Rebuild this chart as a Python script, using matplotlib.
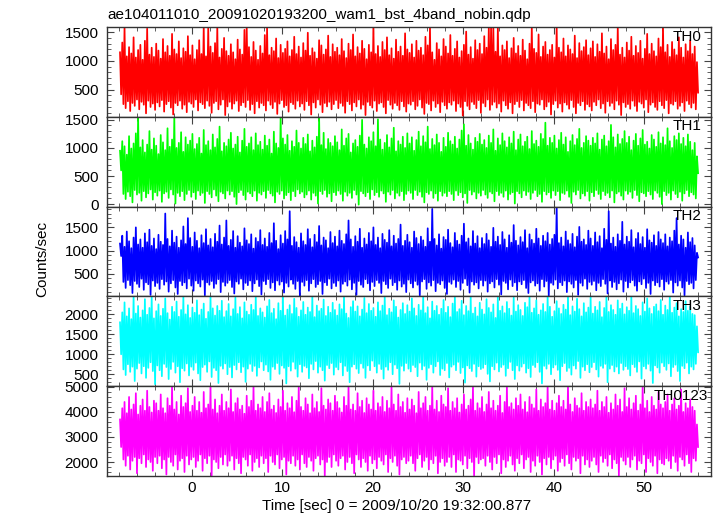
import matplotlib
matplotlib.use("Agg")
import matplotlib.pyplot as plt
import numpy as np
from matplotlib.ticker import MultipleLocator

plt.rcParams['font.family'] = ['Liberation Sans', 'DejaVu Sans']

title = "ae104011010_20091020193200_wam1_bst_4band_nobin.qdp"
xlabel = "Time [sec] 0 = 2009/10/20 19:32:00.877"
ylabel = "Counts/sec"
names = ["TH0", "TH1", "TH2", "TH3", "TH0123"]
colors = ["#ff0000", "#00ff00", "#0000ff", "#00ffff", "#ff00ff"]

t_start = -7.92   # first bin time [s]
t_step = 0.125    # half of the 0.25 s envelope sampling (hi, lo, hi, lo ...)

# upper spikes / lower dips of each light curve, read every 0.25 s (counts/sec)
th0_hi = [1150, 1320, 1590, 1080, 1240, 1130, 1410, 1060, 1190, 1280, 1020, 1350, 1560, 1110, 1230, 1070,
          1300, 1180, 1040, 1380, 1150, 1260, 1090, 1470, 1200, 1120, 1340, 1050, 1220, 1160, 1430, 1100,
          1270, 1030, 1190, 1360, 1120, 1590, 1080, 1580, 1250, 1140, 1310, 1590, 1060, 1210, 1400, 1170,
          1090, 1290, 1150, 1030, 1370, 1200, 1110, 1540, 1590, 1240, 1070, 1330, 1180, 1020, 1260, 1130,
          1450, 1570, 1100, 1230, 1170, 1390, 1050, 1280, 1140, 1210, 1340, 1080, 1190, 1420, 1120, 1250,
          1060, 1310, 1180, 1490, 1090, 1220, 1150, 1040, 1360, 1270, 1110, 1200, 1440, 1070, 1290, 1160,
          1230, 1100, 1380, 1170, 1050, 1300, 1190, 1460, 1080, 1240, 1130, 1350, 1210, 1030, 1280, 1150,
          1590, 1120, 1260, 1070, 1330, 1190, 1410, 1100, 1220, 1040, 1370, 1160, 1250, 1090, 1480, 1200,
          1140, 1290, 1060, 1350, 1180, 1230, 1100, 1420, 1270, 1590, 1150, 1020, 1310, 1200, 1080, 1380,
          1250, 1130, 1450, 1090, 1210, 1340, 1060, 1170, 1280, 1510, 1110, 1240, 1040, 1360, 1190, 1300,
          1120, 1430, 1230, 1590, 1570, 1590, 1160, 1590, 1080, 1270, 1190, 1340, 1050, 1220, 1400, 1130,
          1260, 1090, 1370, 1180, 1030, 1300, 1590, 1210, 1140, 1460, 1070, 1250, 1330, 1110, 1190, 1280,
          1060, 1580, 1230, 1150, 1390, 1080, 1270, 1200, 1120, 1440, 1050, 1310, 1170, 1240, 1360, 1100,
          1220, 1340, 1070, 1290, 1160, 1480, 1130, 1250, 1030, 1380, 1190, 1280, 1590, 1110, 1230, 1060,
          1320, 1180, 1420, 1090, 1260, 1140, 1350, 1040, 1210, 1470, 1120, 1300, 1170, 1080, 1390, 1240,
          1590, 1150, 1280, 1070, 1330, 1200, 1100, 1410, 1230, 1060, 1290, 1170, 1360, 1120, 1250, 980]
th0_lo = [420, 250, 180, 300, 130, 270, 220, 330, 160, 290, 240, 90, 310, 200, 260, 150,
          280, 210, 320, 120, 250, 300, 190, 70, 270, 230, 310, 170, 240, 110, 290, 260,
          200, 330, 140, 280, 250, 180, 310, 220, 100, 270, 300, 160, 240, 330, 60, 210,
          290, 170, 260, 310, 130, 230, 280, 200, 320, 150, 250, 90, 300, 190, 270, 230,
          140, 310, 240, 180, 290, 80, 260, 320, 200, 230, 120, 280, 250, 170, 310, 210,
          260, 150, 300, 230, 70, 280, 190, 330, 240, 110, 270, 210, 290, 160, 250, 320,
          180, 270, 220, 100, 300, 250, 140, 280, 210, 330, 170, 240, 60, 290, 230, 190,
          310, 130, 260, 280, 200, 90, 320, 240, 170, 270, 230, 150, 300, 210, 120, 260,
          240, 300, 160, 220, 330, 190, 80, 270, 250, 140, 310, 200, 260, 110, 290, 230,
          170, 280, 240, 310, 130, 260, 200, 50, 300, 220, 160, 290, 250, 180, 320, 100,
          270, 210, 330, 150, 240, 290, 190, 260, 120, 310, 230, 170, 280, 90, 250, 300,
          200, 320, 140, 270, 230, 180, 300, 110, 260, 240, 330, 160, 210, 290, 70, 250,
          310, 190, 260, 120, 280, 240, 170, 320, 200, 90, 270, 230, 300, 150, 250, 210,
          140, 290, 230, 330, 180, 260, 100, 300, 220, 270, 160, 310, 240, 60, 280, 200,
          250, 170, 310, 220, 130, 290, 260, 190, 330, 110, 240, 280, 200, 150, 300, 230,
          180, 320, 90, 260, 240, 300, 170, 220, 280, 130, 310, 250, 190, 270, 160, 450]

th1_hi = [950, 1120, 1030, 880, 1210, 990, 1080, 1260, 1550, 1010, 1140, 920, 1060, 1300, 970, 1170,
          1040, 890, 1230, 1100, 960, 1350, 1020, 1150, 1550, 1000, 1090, 1280, 930, 1190, 1060, 1130,
          1250, 980, 1070, 1180, 900, 1320, 1050, 1120, 960, 1240, 1010, 1160, 1380, 940, 1090, 1030,
          1150, 1270, 990, 1060, 1200, 920, 1130, 1340, 1020, 1080, 1190, 960, 1260, 1050, 1110, 970,
          1220, 1040, 1150, 900, 1290, 1080, 1000, 1550, 1170, 1060, 1230, 950, 1120, 1020, 1310, 1090,
          990, 1180, 1070, 1240, 940, 1130, 1010, 1200, 1550, 1050, 1270, 980, 1160, 1090, 1030, 1210,
          1100, 960, 1330, 1040, 1170, 1250, 920, 1080, 1140, 1020, 1220, 1500, 1060, 990, 1190, 1120,
          1280, 1030, 1510, 1150, 970, 1090, 1230, 1010, 1170, 1360, 940, 1120, 1060, 1200, 1000, 1260,
          1080, 1190, 950, 1140, 1290, 1030, 1210, 1100, 1380, 980, 1160, 1050, 1240, 1090, 930, 1180,
          1020, 1270, 1120, 1060, 1200, 990, 1150, 1310, 1420, 1040, 1230, 1080, 970, 1180, 1110, 1250,
          1060, 1140, 1000, 1220, 1090, 1330, 950, 1170, 1050, 1260, 1120, 1010, 1190, 1080, 1290, 960,
          1150, 1240, 1030, 1110, 1200, 980, 1300, 1070, 1130, 1020, 1250, 1160, 1450, 1040, 1180, 1090,
          1220, 990, 1140, 1270, 1060, 1190, 930, 1120, 1230, 1050, 1160, 1340, 1000, 1090, 1210, 1130,
          1040, 1180, 1080, 1260, 970, 1150, 1220, 1030, 1120, 1410, 1190, 1010, 1240, 1070, 1160, 1300,
          1090, 1200, 960, 1130, 1250, 1040, 1170, 1320, 1060, 1110, 990, 1230, 1150, 1020, 1280, 1080,
          1190, 1050, 1350, 1120, 1000, 1210, 1140, 1260, 1070, 1180, 1030, 1240, 1110, 960, 1090, 850]
th1_lo = [600, 180, 90, 220, 140, 30, 250, 170, 200, 60, 230, 120, 190, 260, 80, 210,
          150, 240, 40, 190, 220, 110, 260, 170, 10, 200, 140, 230, 70, 180, 250, 130,
          210, 90, 240, 160, 200, 20, 230, 180, 120, 260, 150, 50, 220, 190, 100, 240,
          170, 230, 130, 0, 210, 250, 160, 80, 220, 190, 140, 240, 60, 200, 170, 230,
          110, 250, 190, 150, 30, 220, 180, 240, 100, 160, 210, 70, 230, 140, 260, 190,
          220, 120, 170, 240, 80, 200, 150, 10, 230, 180, 250, 130, 190, 50, 210, 160,
          240, 180, 60, 220, 150, 200, 110, 250, 170, -10, 230, 190, 140, 210, 90, 260,
          160, 210, 130, 240, 190, 40, 220, 170, 250, 100, 200, 150, 230, 70, 180, 240,
          200, 90, 250, 160, 220, 130, 30, 210, 180, 240, 110, 190, 60, 230, 150, 200,
          140, 230, 180, 70, 240, 160, 210, 120, 190, 20, 250, 170, 220, 100, 200, 150,
          250, 170, 110, 220, 190, 50, 230, 160, 200, 130, 240, 80, 180, 210, 10, 230,
          190, 120, 240, 160, 220, 90, 200, 250, 140, 180, 40, 230, 170, 210, 110, 240,
          160, 230, 70, 200, 180, 240, 130, 20, 220, 170, 250, 100, 190, 150, 230, 60,
          210, 140, 250, 180, 90, 230, 160, 200, 120, 240, 30, 190, 220, 150, 80, 240,
          180, 220, 110, 250, 160, 50, 210, 190, 140, 230, 170, 90, 240, 200, 130, 0,
          230, 160, 200, 80, 240, 180, 120, 220, 60, 190, 250, 140, 210, 170, 100, 550]

th2_hi = [1150, 1320, 1080, 1410, 1200, 1050, 1280, 1500, 1130, 1240, 1060, 1370, 1180, 1450, 1100, 1260,
          1030, 1340, 1190, 1120, 1800, 1250, 1090, 1430, 1170, 1300, 1060, 1220, 1520, 1140, 1700, 1270,
          1080, 1390, 1210, 1050, 1330, 1160, 1460, 1110, 1250, 1070, 1360, 1190, 1540, 1130, 1280, 1650,
          1100, 1230, 1420, 1060, 1310, 1170, 1090, 1480, 1220, 1140, 1350, 1040, 1270, 1190, 1440, 1120,
          1260, 1080, 1380, 1160, 1590, 1210, 1030, 1330, 1150, 1420, 1240, 1850, 1100, 1290, 1180, 1060,
          1370, 1200, 1120, 1460, 1250, 1070, 1340, 1180, 1530, 1110, 1280, 1220, 1050, 1400, 1160, 1300,
          1090, 1430, 1210, 1140, 1350, 1650, 1240, 1080, 1310, 1190, 1470, 1060, 1260, 1130, 1380, 1200,
          1500, 1120, 1280, 1050, 1360, 1230, 1170, 1440, 1090, 1320, 1150, 1250, 1560, 1100, 1210, 1340,
          1180, 1060, 1410, 1270, 1140, 1300, 1220, 1080, 1480, 1190, 1900, 1250, 1110, 1350, 1040, 1290,
          1230, 1450, 1160, 1070, 1380, 1210, 1130, 1320, 1580, 1180, 1260, 1090, 1420, 1150, 1310, 1050,
          1270, 1140, 1360, 1220, 1080, 1490, 1190, 1300, 1120, 1400, 1240, 1060, 1330, 1170, 1550, 1210,
          1110, 1290, 1180, 1440, 1050, 1350, 1230, 1150, 1470, 1260, 1100, 1320, 1200, 1380, 1130, 1250,
          1340, 1950, 1160, 1280, 1090, 1410, 1220, 1140, 1360, 1070, 1300, 1510, 1190, 1240, 1120, 1430,
          1260, 1100, 1390, 1180, 1310, 1050, 1470, 1230, 1850, 1150, 1280, 1080, 1350, 1210, 1620, 1130,
          1300, 1190, 1440, 1070, 1250, 1380, 1140, 1290, 1060, 1460, 1220, 1170, 1330, 1100, 1400, 1240,
          1160, 1350, 1090, 1280, 1200, 1430, 1700, 1130, 1320, 1240, 1060, 1390, 1180, 1270, 1110, 950]
th2_lo = [880, 320, 190, 360, 250, 80, 340, 280, 210, 390, 150, 310, 270, 40, 350, 230,
          300, 170, 380, 260, 330, 110, 290, 360, 200, 60, 340, 250, 310, 180, 390, 240,
          130, 350, 290, 220, 370, 30, 310, 260, 340, 190, 280, 380, 100, 320, 240, 300,
          360, 210, 70, 330, 280, 390, 160, 300, 250, 350, 120, 290, 370, 230, 50, 340,
          270, 380, 190, 310, 140, 350, 260, 330, 90, 300, 220, 370, 280, 170, 340, 20,
          320, 240, 360, 130, 290, 380, 210, 270, 340, 60, 310, 250, 390, 180, 300, 230,
          350, 110, 280, 330, 240, 370, 160, 300, 40, 340, 260, 210, 380, 290, 140, 320,
          230, 360, 300, 80, 340, 270, 190, 390, 250, 310, 150, 350, 220, 280, 100, 370,
          290, 200, 340, 260, 30, 330, 380, 170, 310, 240, 360, 120, 300, 270, 350, 190,
          60, 320, 280, 370, 210, 340, 150, 300, 390, 250, 90, 330, 260, 310, 180, 360,
          240, 350, 110, 290, 330, 200, 380, 260, 50, 340, 300, 160, 370, 230, 310, 140,
          330, 270, 360, 190, 80, 310, 350, 240, 290, 130, 380, 220, 340, 20, 300, 260,
          370, 180, 310, 250, 350, 100, 330, 280, 200, 360, 40, 300, 240, 390, 170, 320,
          260, 340, 140, 300, 230, 380, 280, 70, 350, 210, 320, 160, 290, 370, 110, 340,
          200, 310, 360, 240, 130, 330, 270, 390, 190, 300, 60, 350, 250, 310, 220, 380,
          150, 330, 280, 360, 90, 310, 240, 350, 200, 30, 340, 270, 300, 180, 360, 850]

th3_hi = [1800, 2050, 2300, 1950, 2150, 1880, 2450, 2020, 2210, 1920, 2100, 2380, 1990, 2160, 2450, 1900,
          2080, 2250, 1960, 2140, 2400, 2030, 1870, 2190, 2060, 2320, 1940, 2110, 2450, 2000, 2230, 1910,
          2170, 2040, 2350, 1980, 2120, 2270, 1890, 2060, 2450, 2150, 1970, 2210, 2090, 2340, 1930, 2080,
          2260, 1950, 2130, 2420, 2010, 2180, 1900, 2300, 2070, 1990, 2240, 2110, 2450, 1960, 2150, 2050,
          1920, 2200, 2360, 2030, 2140, 1880, 2280, 2090, 2450, 1970, 2120, 2230, 2010, 2390, 2160, 1940,
          2100, 2310, 1990, 2170, 2060, 2450, 1930, 2220, 2080, 2140, 2370, 1960, 2190, 2040, 2290, 2110,
          1970, 2250, 2130, 2450, 2020, 1910, 2180, 2330, 2070, 2200, 1950, 2120, 2410, 2030, 2260, 2090,
          2160, 1940, 2300, 2080, 2220, 2450, 1980, 2140, 2050, 2350, 2190, 1920, 2110, 2280, 2010, 2230,
          2070, 2400, 2150, 1960, 2240, 2100, 2450, 2030, 2180, 1900, 2320, 2090, 2210, 1990, 2140, 2360,
          2040, 2190, 1930, 2270, 2450, 2060, 2130, 2340, 1980, 2210, 2080, 2450, 2020, 2170, 1950, 2290,
          2120, 2000, 2380, 2160, 2050, 2250, 1910, 2450, 2090, 2200, 2030, 2310, 2140, 1970, 2420, 2070,
          2230, 2110, 1960, 2290, 2180, 2450, 2040, 2150, 2350, 1990, 2100, 2260, 2060, 2450, 2190, 1940,
          2080, 2330, 2150, 2010, 2240, 2120, 2450, 1980, 2200, 2070, 2390, 2130, 1950, 2280, 2050, 2170,
          2440, 2020, 2190, 2100, 2310, 1930, 2160, 2450, 2060, 2230, 2110, 1990, 2350, 2140, 2270, 2000,
          2180, 2090, 2450, 2030, 2210, 2130, 1960, 2300, 2070, 2400, 2150, 2010, 2190, 2250, 2080, 2360,
          1990, 2220, 2110, 2450, 2040, 2170, 2280, 1950, 2130, 2060, 2330, 2090, 2200, 2010, 1980, 1700]
th3_lo = [1000, 620, 480, 750, 560, 690, 330, 640, 780, 520, 700, 410, 660, 800, 580, 250,
          720, 600, 450, 760, 680, 380, 630, 810, 540, 700, 300, 650, 590, 770, 470, 690,
          610, 790, 520, 350, 680, 740, 560, 820, 430, 660, 600, 280, 710, 640, 770, 500,
          680, 420, 730, 620, 800, 550, 690, 310, 640, 760, 580, 710, 460, 670, 820, 600,
          740, 570, 360, 690, 630, 780, 510, 720, 660, 270, 700, 590, 810, 640, 440, 750,
          560, 710, 670, 400, 760, 620, 830, 540, 690, 600, 340, 730, 650, 780, 490, 680,
          620, 800, 470, 710, 580, 300, 690, 750, 640, 530, 770, 660, 410, 720, 600, 840,
          700, 540, 760, 630, 390, 690, 610, 800, 500, 740, 650, 260, 710, 590, 780, 640,
          570, 730, 680, 450, 790, 620, 710, 360, 660, 750, 540, 700, 820, 480, 640, 600,
          780, 420, 690, 740, 600, 810, 530, 670, 290, 720, 650, 580, 760, 440, 700, 630,
          660, 750, 510, 320, 700, 620, 790, 570, 680, 740, 460, 650, 810, 600, 380, 720,
          590, 690, 770, 540, 650, 430, 730, 680, 800, 560, 270, 710, 640, 760, 500, 670,
          740, 610, 350, 700, 780, 580, 660, 490, 720, 640, 830, 410, 690, 600, 750, 550,
          680, 800, 620, 440, 710, 660, 760, 300, 640, 730, 570, 690, 520, 780, 610, 700,
          630, 470, 750, 680, 560, 820, 390, 700, 640, 760, 590, 280, 720, 670, 540, 790,
          700, 610, 770, 450, 680, 740, 580, 330, 710, 650, 790, 520, 690, 620, 760, 1050]

th0123_hi = [3700, 4150, 4400, 3950, 4600, 4100, 4300, 4750, 3900, 4250, 4500, 4050, 4850, 4200, 3980, 4450,
             4350, 4050, 4700, 4150, 3950, 4550, 4250, 5030, 4100, 4400, 3900, 4650, 4200, 4350, 4950, 4000,
             4250, 4600, 4050, 4400, 3970, 4800, 4150, 4300, 5030, 4100, 4500, 3950, 4250, 4700, 4050, 4400,
             4150, 4900, 4000, 4350, 4550, 4100, 4250, 3930, 4650, 4200, 4450, 5030, 4050, 4300, 4150, 4600,
             4000, 4400, 4750, 4100, 4250, 3960, 4500, 4200, 4850, 4050, 4350, 4150, 4600, 3990, 4450, 5030,
             4200, 4050, 4550, 4300, 3950, 4700, 4150, 4400, 4000, 4950, 4250, 4100, 4500, 4350, 4050, 4650,
             4400, 4150, 3980, 4600, 4250, 5030, 4100, 4300, 4050, 4750, 4200, 4450, 3960, 4550, 4300, 4100,
             4850, 4050, 4350, 4200, 4600, 4000, 4450, 4150, 5030, 4300, 4050, 4700, 4200, 4400, 3970, 4550,
             4100, 4500, 4250, 3950, 4800, 4150, 4350, 4600, 4050, 4250, 5030, 4100, 4450, 4000, 4650, 4300,
             4200, 4950, 4050, 4400, 4150, 4550, 3980, 4300, 4700, 4100, 4250, 4500, 5030, 4050, 4350, 4150,
             4600, 4000, 4300, 4800, 4150, 4450, 4050, 4250, 4650, 3960, 4400, 5030, 4200, 4350, 4100, 4550,
             4250, 4700, 4100, 4400, 3990, 4600, 4300, 4150, 4900, 4050, 4500, 4200, 4350, 5030, 4100, 4450,
             4050, 4350, 4650, 4200, 4450, 4100, 5030, 4300, 4000, 4550, 4250, 4150, 4750, 4050, 4400, 4200,
             4500, 4150, 4300, 4850, 4050, 4400, 4200, 4600, 3970, 4350, 4100, 4700, 4250, 4500, 4000, 4950,
             4200, 4550, 4100, 4350, 4650, 4050, 4300, 5030, 4150, 4450, 4000, 4600, 4250, 4100, 4800, 4300,
             4150, 4400, 4700, 4050, 4300, 4550, 4100, 4250, 4900, 4000, 4350, 4150, 4500, 4200, 4050, 3500]
th0123_lo = [2600, 2100, 1850, 2250, 1700, 2050, 2200, 1550, 2150, 1950, 2300, 1800, 2100, 2000, 1650, 2200,
             1950, 2250, 1750, 2100, 1500, 2200, 2000, 1850, 2300, 1700, 2050, 2150, 1600, 2250, 1900, 2100,
             2200, 1800, 2050, 2300, 1650, 2150, 1950, 2250, 1450, 2100, 2000, 1750, 2200, 1900, 2300, 1850,
             2050, 2250, 1700, 2150, 1950, 1550, 2200, 2100, 1850, 2300, 1650, 2000, 2150, 1800, 2250, 1950,
             2150, 1600, 2250, 2000, 1900, 2300, 1750, 2100, 2200, 1500, 2050, 1950, 2250, 1850, 2100, 1700,
             2300, 1950, 1800, 2200, 2050, 1650, 2150, 2250, 1900, 2100, 1450, 2000, 2200, 1800, 2300, 2050,
             1850, 2150, 2250, 1700, 2000, 2200, 1950, 1550, 2300, 2100, 1800, 2150, 2000, 1650, 2250, 1950,
             2100, 1750, 2200, 2050, 1900, 2300, 1600, 2150, 2000, 2250, 1850, 1500, 2100, 2200, 1950, 2050,
             2250, 1950, 1650, 2150, 2300, 1800, 2050, 2200, 1700, 2100, 1950, 2250, 1550, 2000, 2150, 1850,
             2000, 2200, 1800, 2300, 1600, 2100, 2050, 1900, 2250, 1750, 2150, 2000, 1450, 2200, 1950, 2100,
             2150, 1850, 2250, 2000, 1700, 2200, 1950, 2300, 1550, 2100, 1800, 2050, 2250, 1900, 1650, 2150,
             1950, 2300, 1750, 2100, 2200, 1600, 2050, 1850, 2250, 2000, 1500, 2150, 1900, 2200, 1750, 2100,
             2250, 1650, 2000, 2150, 1850, 2300, 1950, 1700, 2200, 2050, 2150, 1550, 2250, 1900, 2100, 1800,
             2050, 2200, 1900, 1600, 2250, 2000, 2150, 1850, 2300, 1750, 2100, 1950, 1450, 2200, 2050, 1900,
             2200, 1800, 2100, 2250, 1700, 2050, 1950, 2300, 1600, 2150, 2000, 1850, 2250, 1550, 2100, 1950,
             1900, 2150, 2050, 1750, 2250, 2000, 1650, 2200, 2100, 1850, 2300, 1950, 1600, 2150, 2050, 2600]

his = [th0_hi, th1_hi, th2_hi, th3_hi, th0123_hi]
los = [th0_lo, th1_lo, th2_lo, th3_lo, th0123_lo]
ylims = [(30, 1590), (-45, 1555), (7, 1950), (200, 2450), (1440, 5030)]
yticks = [[500, 1000, 1500], [0, 500, 1000, 1500], [500, 1000, 1500],
          [500, 1000, 1500, 2000], [2000, 3000, 4000, 5000]]
yminor = [100, 100, 100, 100, 200]

fig, axes = plt.subplots(5, 1, sharex=True, figsize=(7.17, 5.16), dpi=100)
fig.subplots_adjust(left=0.1492, right=0.9916, top=0.9477, bottom=0.0775, hspace=0)

for i, ax in enumerate(axes):
    n = min(len(his[i]), len(los[i]))
    y = np.column_stack([his[i][:n], los[i][:n]]).ravel()
    t = t_start + t_step * np.arange(len(y))
    ax.plot(t, y, color=colors[i], lw=1.25)
    ax.set_ylim(*ylims[i])
    ax.set_xlim(-9.36, 57.38)
    ax.set_yticks(yticks[i])
    ax.yaxis.set_minor_locator(MultipleLocator(yminor[i]))
    ax.xaxis.set_major_locator(MultipleLocator(10))
    ax.xaxis.set_minor_locator(MultipleLocator(2))
    ax.tick_params(which='both', direction='in', top=True, right=True,
                   labelsize=11, color='#444444')
    ax.tick_params(which='major', length=5)
    ax.tick_params(which='minor', length=3)
    ax.tick_params(axis='y', pad=6)
    for s in ax.spines.values():
        s.set_color('#333333')
        s.set_linewidth(1.0)
    xr = 0.995 if names[i] == "TH0123" else 0.985
    ax.text(xr, 0.97, names[i], transform=ax.transAxes, ha='right', va='top', fontsize=11)

fig.text(107 / 717, 1 - 8 / 516, title, ha='left', va='top', fontsize=11)
fig.text(397 / 717, 1 - 506 / 516, xlabel, ha='center', va='center', fontsize=11)
fig.text(42 / 717, 1 - 259 / 516, ylabel, ha='center', va='center', rotation=90, fontsize=11)

fig.savefig("out.png", dpi=100)
